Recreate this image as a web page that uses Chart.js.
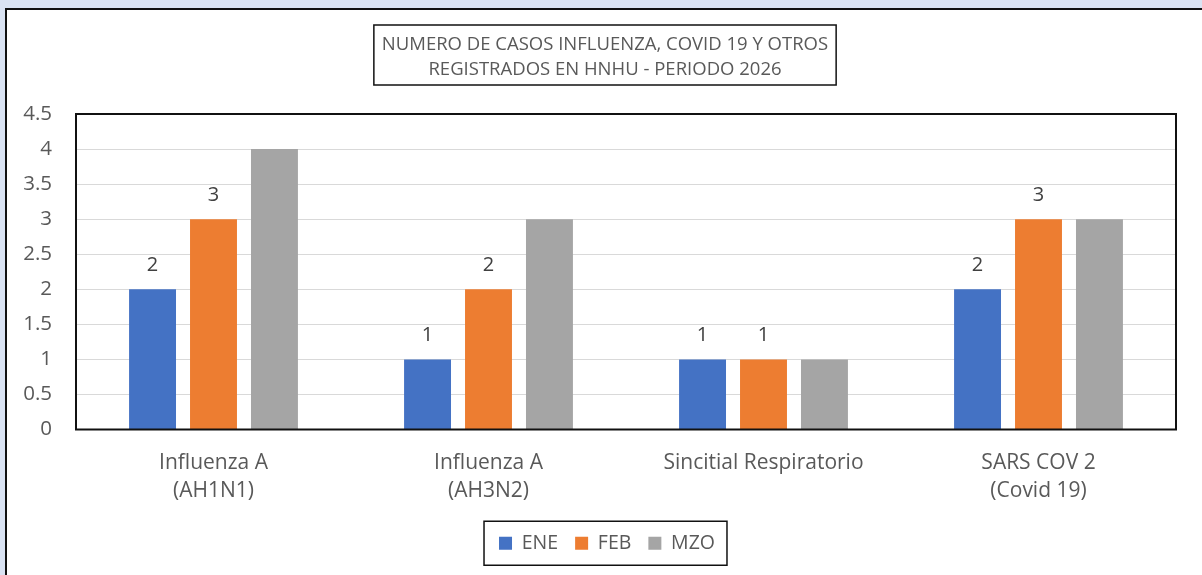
<!DOCTYPE html>
<html>
<head>
<meta charset="utf-8">
<script src="https://cdn.jsdelivr.net/npm/chart.js@4.4.1/dist/chart.umd.min.js"></script>
<style>
  html, body { margin: 0; padding: 0; background: #dae3f3; overflow: hidden; }
  #frame { position: absolute; left: 5px; top: 8px; width: 1200px; height: 570px; background: #fff; border: 2px solid #111; }
  #chart { display: block; }
</style>
</head>
<body>
<div id="frame"><canvas id="chart" width="1200" height="565"></canvas></div>
<script>
// chart data
const categories = [["Influenza A", "(AH1N1)"], ["Influenza A", "(AH3N2)"], "Sincitial Respiratorio", ["SARS COV 2", "(Covid 19)"]];
const seriesNames = ["ENE", "FEB", "MZO"];
const eneValues = [2, 1, 1, 2];
const febValues = [3, 2, 1, 3];
const mzoValues = [4, 3, 1, 3];
const titleLines = ["NUMERO DE CASOS INFLUENZA, COVID 19 Y OTROS", "REGISTRADOS EN HNHU - PERIODO 2026"];

const textColor = '#595959';
const fontFamily = "'Open Sans', 'Liberation Sans', sans-serif";

// draws the boxed title, the plot border, the legend box and value labels
const boxesPlugin = {
    id: 'boxes',
    afterDraw(chart) {
        const ctx = chart.ctx;
        const area = chart.chartArea;
        ctx.save();

        // title box
        ctx.font = '18.5px ' + fontFamily;
        ctx.fillStyle = textColor;
        ctx.textAlign = 'center';
        ctx.textBaseline = 'middle';
        const cx = chart.width / 2 - 2;
        let w = 0;
        titleLines.forEach(t => { w = Math.max(w, ctx.measureText(t).width); });
        w += 16;
        ctx.strokeStyle = '#111';
        ctx.lineWidth = 1.5;
        ctx.strokeRect(cx - w / 2, 15, w, 60);
        ctx.fillText(titleLines[0], cx, 35);
        ctx.fillText(titleLines[1], cx, 60);

        // plot border
        ctx.lineWidth = 2;
        ctx.strokeRect(area.left, area.top, area.right - area.left, area.bottom - area.top);

        // legend box
        const boxes = chart.legend.legendHitBoxes;
        if (boxes && boxes.length) {
            const l = Math.min(...boxes.map(b => b.left)) - 15;
            const r = Math.max(...boxes.map(b => b.left + b.width)) + 12;
            const t = Math.min(...boxes.map(b => b.top));
            const h = boxes[0].height;
            ctx.lineWidth = 1.5;
            ctx.strokeRect(l, t + h / 2 - 22, r - l, 44);
        }

        // value labels (only ENE and FEB carry labels)
        ctx.font = '20px ' + fontFamily;
        ctx.fillStyle = '#404040';
        [0, 1].forEach(i => {
            const meta = chart.getDatasetMeta(i);
            meta.data.forEach((bar, j) => {
                ctx.fillText(String(chart.data.datasets[i].data[j]), bar.x, bar.y - 24);
            });
        });
        ctx.restore();
    }
};

new Chart(document.getElementById('chart'), {
    type: 'bar',
    data: {
        labels: categories,
        datasets: [
            { label: seriesNames[0], data: eneValues, backgroundColor: '#4472c4' },
            { label: seriesNames[1], data: febValues, backgroundColor: '#ed7d31' },
            { label: seriesNames[2], data: mzoValues, backgroundColor: '#a5a5a5' }
        ]
    },
    options: {
        responsive: false,
        animation: false,
        categoryPercentage: 0.665,
        barPercentage: 0.77,
        layout: { padding: { top: 104, right: 0, left: 0, bottom: 12 } },
        plugins: {
            title: { display: false },
            tooltip: { enabled: false },
            legend: {
                position: 'bottom',
                labels: {
                    boxWidth: 13,
                    boxHeight: 13,
                    padding: 17,
                    color: textColor,
                    font: { size: 19.5, family: fontFamily }
                }
            }
        },
        scales: {
            x: {
                grid: { display: false },
                border: { display: false },
                ticks: {
                    color: textColor,
                    padding: 11,
                    maxRotation: 0,
                    autoSkip: false,
                    font: { size: 21, family: fontFamily, lineHeight: 1.35 }
                },
                afterFit(scale) { scale.height = 87; }
            },
            y: {
                min: 0,
                max: 4.5,
                grid: { color: '#d9d9d9', lineWidth: 1, drawTicks: false },
                border: { display: false },
                ticks: {
                    stepSize: 0.5,
                    color: textColor,
                    padding: 24,
                    font: { size: 20.5, family: fontFamily },
                    callback: v => String(v)
                },
                afterFit(scale) { scale.width = 69; }
            },
            // empty right-hand spacer so the plot ends where the original does
            spacer: {
                type: 'linear',
                position: 'right',
                grid: { display: false },
                border: { display: false },
                ticks: { display: false },
                afterFit(scale) { scale.width = 31; }
            }
        }
    },
    plugins: [boxesPlugin]
});
</script>
</body>
</html>
